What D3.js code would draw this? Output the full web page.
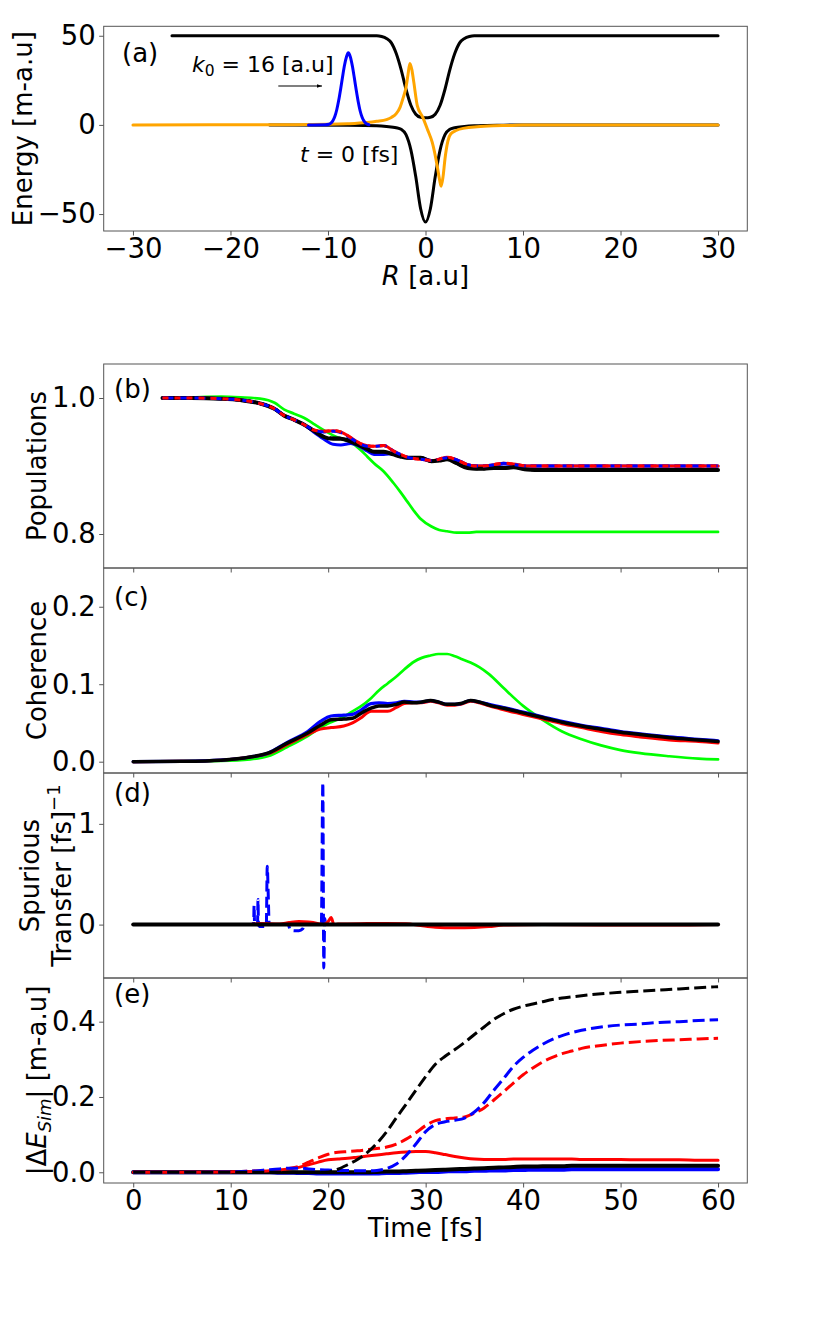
<!DOCTYPE html>
<html>
<head>
<meta charset="utf-8">
<script src="https://cdn.jsdelivr.net/npm/d3@7"></script>
<style>
  html, body { margin: 0; padding: 0; background: #fff; }
  svg { display: block; }
  text { font-family: "DejaVu Sans", sans-serif; fill: #000; }
</style>
</head>
<body>
<script>
// ---------------- DATA ----------------
// Panel (a): potential energy curves vs R [a.u]
const aUpperR = [-26, -8, -5, -4.5, -4, -3.5, -3, -2.5, -2, -1.5, -1, -0.5, 0, 0.5, 1, 1.5, 2, 2.5, 3, 3.5, 4, 4.5, 5, 8, 30];
const aUpperE = [50, 50, 50, 49.6, 48.5, 46, 40, 31, 20, 11, 6, 4.3, 4, 4.3, 6, 11, 20, 31, 40, 46, 48.5, 49.6, 50, 50, 50];

const aLowerR = [-16, -8, -5, -4, -3, -2.5, -2, -1.5, -1, -0.5, 0, 0.5, 1, 1.5, 2, 2.5, 3, 4, 5, 6, 8, 10, 30];
const aLowerE = [0, -0.2, -0.5, -0.9, -1.6, -2.5, -5.5, -14, -29, -47, -54.5, -47, -29, -14, -5.5, -2.5, -1.6, -0.9, -0.5, -0.3, -0.15, 0, 0];

const aCoupR = [-30, -15, -10, -8, -6, -5, -4, -3.5, -3, -2.6, -2.3, -2.0, -1.8, -1.6, -1.4, -1.2, -0.85, -0.3, 0.2, 0.7, 1.2, 1.45, 1.6, 1.8, 2.0, 2.3, 2.6, 3.2, 4, 5.3, 7, 8.7, 10, 30];
const aCoupE = [0, 0.1, 0.3, 0.6, 1.3, 2.0, 3.0, 4.2, 6.3, 10, 15, 21, 28, 34.5, 31, 24, 11, 4.5, -2.5, -10, -23, -31, -34.4, -29, -19, -9, -5, -3, -1.8, -1.0, -0.5, -0.3, 0, 0];

const aPackR = [-12, -10.3, -9.9, -9.7, -9.5, -9.3, -9.1, -8.9, -8.7, -8.5, -8.3, -8.1, -7.92, -7.7, -7.5, -7.3, -7.1, -6.9, -6.7, -6.5, -6.3, -6.1, -5.8];
const aPackE = [0, 0.1, 0.4, 1.0, 2.3, 4.7, 8.5, 13.8, 20.2, 27.2, 33.6, 38.2, 40.4, 38.0, 33.0, 26.4, 19.4, 13.0, 7.8, 4.3, 2.1, 0.9, 0.1];

// Panel (b): populations vs time [fs]
const tB = [3, 6, 9, 11, 13, 14.5, 15.5, 16.5, 17.5, 18.5, 19.5, 20.5, 21.3, 22.3, 23.3, 24.0, 24.7, 25.7, 26.7, 27.4, 28.1, 28.8, 29.5, 30.6, 31.4, 32.2, 33.2, 34.3, 35.2, 36.0, 37.0, 38.0, 39.0, 40.4, 42, 45, 50, 55, 60];
const popGreen = [1.000, 1.001, 1.002, 1.001, 0.999, 0.993, 0.983, 0.977, 0.971, 0.962, 0.953, 0.945, 0.940, 0.935, 0.924, 0.914, 0.904, 0.892, 0.875, 0.862, 0.848, 0.834, 0.822, 0.811, 0.806, 0.804, 0.802, 0.802, 0.803, 0.803, 0.803, 0.803, 0.803, 0.803, 0.803, 0.803, 0.803, 0.803, 0.803];
const popBlack = [1.000, 1.000, 0.999, 0.997, 0.992, 0.984, 0.974, 0.968, 0.961, 0.952, 0.943, 0.940, 0.940, 0.936, 0.930, 0.925, 0.921, 0.921, 0.917, 0.914, 0.912, 0.912, 0.912, 0.907, 0.908, 0.910, 0.904, 0.897, 0.896, 0.896, 0.897, 0.897, 0.898, 0.895, 0.894, 0.894, 0.894, 0.894, 0.894];
const popBlackDash = [1.000, 1.000, 0.999, 0.997, 0.992, 0.984, 0.974, 0.968, 0.961, 0.952, 0.944, 0.941, 0.941, 0.937, 0.930, 0.925, 0.921, 0.921, 0.917, 0.914, 0.912, 0.912, 0.912, 0.907, 0.908, 0.910, 0.904, 0.897, 0.896, 0.896, 0.897, 0.897, 0.898, 0.895, 0.894, 0.894, 0.894, 0.894, 0.894];
const popBlue = [1.000, 1.000, 0.999, 0.997, 0.992, 0.984, 0.974, 0.968, 0.961, 0.950, 0.940, 0.932, 0.931, 0.933, 0.928, 0.922, 0.917, 0.917, 0.918, 0.915, 0.912, 0.912, 0.912, 0.908, 0.909, 0.912, 0.909, 0.902, 0.900, 0.900, 0.901, 0.903, 0.902, 0.900, 0.900, 0.900, 0.900, 0.900, 0.900];
const popRed = [1.000, 1.000, 0.999, 0.997, 0.992, 0.984, 0.974, 0.968, 0.961, 0.953, 0.951, 0.952, 0.950, 0.942, 0.933, 0.930, 0.929, 0.930, 0.922, 0.917, 0.913, 0.911, 0.910, 0.908, 0.910, 0.913, 0.909, 0.902, 0.900, 0.900, 0.902, 0.904, 0.903, 0.900, 0.900, 0.900, 0.900, 0.900, 0.900];
const popBlueDash = [1.000, 1.000, 0.999, 0.997, 0.992, 0.984, 0.974, 0.968, 0.961, 0.953, 0.950, 0.951, 0.949, 0.941, 0.932, 0.929, 0.929, 0.930, 0.922, 0.917, 0.913, 0.911, 0.910, 0.908, 0.910, 0.912, 0.909, 0.902, 0.900, 0.900, 0.902, 0.904, 0.902, 0.900, 0.900, 0.900, 0.900, 0.900, 0.900];

// Panel (c): coherence vs time [fs]
const tC = [0, 5, 9, 12, 13.8, 15.8, 17.9, 19.2, 20.3, 21.6, 22.5, 23.3, 24.4, 25.2, 26.1, 27, 27.8, 28.8, 29.6, 30.5, 31.3, 32.2, 33, 33.6, 34.6, 35.5, 36.5, 38, 40, 42, 44, 46, 48, 50, 52, 55, 58, 60];
const cohGreen = [0, 0.0005, 0.001, 0.003, 0.007, 0.019, 0.033, 0.044, 0.051, 0.058, 0.065, 0.071, 0.082, 0.092, 0.101, 0.110, 0.119, 0.129, 0.134, 0.137, 0.139, 0.139, 0.136, 0.133, 0.128, 0.122, 0.113, 0.095, 0.072, 0.054, 0.039, 0.029, 0.021, 0.015, 0.011, 0.007, 0.004, 0.003];
const cohBlack = [0, 0.0005, 0.002, 0.006, 0.011, 0.024, 0.037, 0.047, 0.054, 0.055, 0.056, 0.062, 0.069, 0.072, 0.072, 0.074, 0.077, 0.076, 0.077, 0.079, 0.077, 0.074, 0.074, 0.075, 0.079, 0.077, 0.073, 0.069, 0.063, 0.057, 0.051, 0.046, 0.042, 0.038, 0.035, 0.031, 0.028, 0.026];
const cohBlue = [0, 0.0005, 0.002, 0.006, 0.011, 0.025, 0.039, 0.052, 0.059, 0.060, 0.061, 0.066, 0.075, 0.076, 0.075, 0.076, 0.078, 0.077, 0.077, 0.079, 0.077, 0.074, 0.074, 0.075, 0.079, 0.077, 0.074, 0.070, 0.064, 0.058, 0.052, 0.047, 0.043, 0.039, 0.036, 0.032, 0.029, 0.027];
const cohRed = [0, 0.0005, 0.002, 0.006, 0.010, 0.022, 0.035, 0.042, 0.044, 0.046, 0.050, 0.056, 0.065, 0.065, 0.065, 0.070, 0.075, 0.076, 0.076, 0.078, 0.076, 0.073, 0.073, 0.074, 0.078, 0.076, 0.072, 0.067, 0.061, 0.055, 0.049, 0.044, 0.039, 0.035, 0.032, 0.028, 0.026, 0.024];

// Panel (d): spurious transfer vs time [fs]
const tDBlueDash = [0, 12.35, 12.4, 12.45, 12.75, 12.8, 12.85, 12.95, 13.65, 13.75, 13.85, 13.95, 14.1, 15.9, 16.1, 16.5, 17.0, 17.4, 17.6, 19.3, 19.45, 19.55, 19.65, 19.75, 19.85, 60];
const spBlueDash = [0, 0, 0.19, 0.0, 0.0, 0.25, 0.0, -0.02, -0.02, 0.58, 0.3, 0.0, 0.0, 0.0, -0.05, -0.06, -0.06, -0.04, 0.0, 0.0, 1.41, -0.43, 0.06, 0.0, 0.0, 0.0];
const tDRed = [0, 12, 13, 15, 16, 17, 18, 19, 19.5, 20.0, 20.3, 20.6, 21, 24, 26, 28, 29.5, 31, 33, 35, 36.5, 38, 42, 48, 55, 60];
const spRed = [0, 0, 0.01, 0.005, 0.02, 0.03, 0.025, 0.01, 0.0, 0.03, 0.07, 0.0, 0.005, 0.01, 0.012, 0.008, -0.01, -0.025, -0.03, -0.028, -0.02, -0.005, 0.0, -0.005, -0.005, 0];
const tDBlack = [0, 60];
const spBlack = [0, 0];

// Panel (e): |dE_Sim| vs time [fs]
const tE = [0, 5, 10, 12, 14, 15, 16, 17, 18, 19, 20, 21, 22, 23, 24, 25, 26, 27, 28, 29, 30, 31, 32, 33, 34, 35, 36, 37, 38, 39, 40, 41, 42, 43, 44, 45, 46, 48, 50, 52, 54, 56, 58, 60];
const dEBlackDash = [0, 0, 0, 0, 0, 0, 0, 0, 0, 0, 0.001, 0.008, 0.020, 0.034, 0.052, 0.077, 0.108, 0.145, 0.181, 0.218, 0.254, 0.287, 0.308, 0.326, 0.345, 0.366, 0.386, 0.406, 0.421, 0.433, 0.441, 0.447, 0.453, 0.459, 0.463, 0.466, 0.469, 0.474, 0.478, 0.481, 0.484, 0.487, 0.490, 0.493];
const dEBlueDash = [0, 0, 0.001, 0.003, 0.007, 0.009, 0.011, 0.011, 0.009, 0.007, 0.006, 0.005, 0.005, 0.004, 0.004, 0.005, 0.010, 0.022, 0.045, 0.075, 0.108, 0.127, 0.134, 0.138, 0.144, 0.160, 0.185, 0.218, 0.249, 0.281, 0.305, 0.324, 0.340, 0.353, 0.363, 0.371, 0.377, 0.386, 0.391, 0.394, 0.398, 0.400, 0.403, 0.405];
const dERedDash = [0, 0, 0.001, 0.003, 0.004, 0.006, 0.010, 0.016, 0.027, 0.038, 0.048, 0.053, 0.055, 0.057, 0.060, 0.063, 0.067, 0.075, 0.088, 0.105, 0.124, 0.137, 0.142, 0.144, 0.147, 0.157, 0.171, 0.192, 0.214, 0.237, 0.259, 0.277, 0.293, 0.305, 0.315, 0.322, 0.329, 0.337, 0.343, 0.347, 0.350, 0.352, 0.354, 0.356];
const dERed = [0, 0, 0.001, 0.002, 0.004, 0.006, 0.009, 0.013, 0.020, 0.027, 0.033, 0.035, 0.037, 0.040, 0.043, 0.046, 0.049, 0.052, 0.054, 0.055, 0.055, 0.052, 0.047, 0.042, 0.038, 0.035, 0.034, 0.034, 0.034, 0.035, 0.035, 0.035, 0.035, 0.035, 0.035, 0.035, 0.034, 0.034, 0.034, 0.033, 0.033, 0.033, 0.032, 0.032];
const dEBlack = [0, 0, 0, 0, 0, 0, 0, 0, 0, 0, 0, 0, 0, 0, 0, 0.001, 0.002, 0.002, 0.003, 0.004, 0.005, 0.006, 0.007, 0.008, 0.009, 0.010, 0.011, 0.012, 0.013, 0.014, 0.015, 0.015, 0.016, 0.016, 0.016, 0.017, 0.017, 0.017, 0.017, 0.017, 0.017, 0.017, 0.017, 0.017];
const dEBlue = [0, 0, 0, 0, 0, -0.001, -0.001, -0.002, -0.002, -0.003, -0.003, -0.003, -0.003, -0.003, -0.003, -0.003, -0.002, -0.002, -0.001, 0, 0.001, 0.001, 0.002, 0.003, 0.003, 0.004, 0.004, 0.005, 0.005, 0.006, 0.006, 0.007, 0.007, 0.007, 0.007, 0.008, 0.008, 0.008, 0.008, 0.008, 0.008, 0.008, 0.008, 0.008];

// Tick labels
const aXTicks = [-30, -20, -10, 0, 10, 20, 30];
const aYTicks = [-50, 0, 50];
const timeTicks = [0, 10, 20, 30, 40, 50, 60];
const bYTicks = [0.8, 1.0];
const cYTicks = [0.0, 0.1, 0.2];
const dYTicks = [0, 1];
const eYTicks = [0.0, 0.2, 0.4];

// ---------------- DRAWING ----------------
const W = 830, H = 1329;
const L = 103.7, Rt = 747.3;
const TICK_FS = 27.5, LABEL_FS = 26;
const FRAME = "#555";

const svg = d3.select("body").append("svg").attr("width", W).attr("height", H);

svg.append("defs").append("marker")
  .attr("id", "arrow").attr("viewBox", "0 0 10 10").attr("refX", 10).attr("refY", 5)
  .attr("markerWidth", 5).attr("markerHeight", 5).attr("orient", "auto")
  .append("path").attr("d", "M0,1.5 L10,5 L0,8.5 Z").attr("fill", "#000");

const xR = d3.scaleLinear().domain([-33, 33]).range([L, Rt]);
const xT = d3.scaleLinear().domain([-3.03, 63]).range([L, Rt]);

const panels = {
  a: { top: 26.3, bot: 231, y: d3.scaleLinear().domain([-59.5, 55.3]).range([231, 26.3]) },
  b: { top: 364, bot: 568, y: d3.scaleLinear().domain([0.75, 1.05]).range([568, 364]) },
  c: { top: 568, bot: 773, y: d3.scaleLinear().domain([-0.0146, 0.25]).range([773, 568]) },
  d: { top: 773, bot: 978, y: d3.scaleLinear().domain([-0.53, 1.505]).range([978, 773]) },
  e: { top: 978, bot: 1183, y: d3.scaleLinear().domain([-0.0285, 0.516]).range([1183, 978]) }
};

function clipFor(id, p) {
  svg.select("defs").append("clipPath").attr("id", "clip-" + id)
    .append("rect").attr("x", L).attr("y", p.top).attr("width", Rt - L).attr("height", p.bot - p.top);
}
Object.entries(panels).forEach(([k, p]) => clipFor(k, p));

function drawLine(panelKey, xs, ys, xScale, color, width, dash) {
  const p = panels[panelKey];
  const data = xs.map((x, i) => [x, ys[i]]);
  const line = d3.line().x(d => xScale(d[0])).y(d => p.y(d[1])).curve(d3.curveMonotoneX);
  svg.append("path").datum(data)
    .attr("clip-path", "url(#clip-" + panelKey + ")")
    .attr("d", line)
    .attr("fill", "none").attr("stroke", color).attr("stroke-width", width)
    .attr("stroke-linejoin", "round").attr("stroke-linecap", dash ? "butt" : "round")
    .attr("stroke-dasharray", dash || null);
}

function styleAxis(g) {
  g.select(".domain").remove();
  g.selectAll(".tick line").attr("stroke", FRAME).attr("stroke-width", 1);
  g.selectAll(".tick text").attr("font-size", TICK_FS).attr("font-family", "DejaVu Sans").attr("fill", "#000");
}

function yAxis(key, ticks, fmt) {
  const p = panels[key];
  const g = svg.append("g").attr("transform", `translate(${L},0)`)
    .call(d3.axisLeft(p.y).tickValues(ticks).tickFormat(fmt).tickSize(4.5).tickPadding(3.5));
  styleAxis(g);
}
function xAxis(key, scale, ticks, showLabels) {
  const p = panels[key];
  const g = svg.append("g").attr("transform", `translate(0,${p.bot})`)
    .call(d3.axisBottom(scale).tickValues(ticks).tickSize(4.5).tickPadding(3)
      .tickFormat(showLabels ? d3.format("d") : () => ""));
  styleAxis(g);
}

// --- Panel (a)
drawLine("a", aUpperR, aUpperE, xR, "#000", 3);
drawLine("a", aLowerR, aLowerE, xR, "#000", 3);
drawLine("a", aCoupR, aCoupE, xR, "#FFA500", 3);
drawLine("a", aPackR, aPackE, xR, "#0000FF", 3);

// --- Panel (b)
drawLine("b", tB, popGreen, xT, "#00FF00", 2.7);
drawLine("b", tB, popBlue, xT, "#0000FF", 3);
drawLine("b", tB, popRed, xT, "#FF0000", 3);
drawLine("b", tB, popBlack, xT, "#000", 4);
drawLine("b", tB, popBlackDash, xT, "#000", 3, "11,5");
drawLine("b", tB, popBlueDash, xT, "#0000FF", 3, "11,5");
drawLine("b", tB, popRed, xT, "#FF0000", 3, "6,6");

// --- Panel (c)
drawLine("c", tC, cohGreen, xT, "#00FF00", 2.7);
drawLine("c", tC, cohRed, xT, "#FF0000", 3);
drawLine("c", tC, cohBlue, xT, "#0000FF", 3.2);
drawLine("c", tC, cohBlack, xT, "#000", 3.5);

// --- Panel (d)
drawLine("d", tDBlueDash, spBlueDash, xT, "#0000FF", 3, "11,5");
drawLine("d", tDRed, spRed, xT, "#FF0000", 3);
drawLine("d", tDBlack, spBlack, xT, "#000", 4);

// --- Panel (e)
drawLine("e", tE, dEBlue, xT, "#0000FF", 4);
drawLine("e", tE, dEBlack, xT, "#000", 4);
drawLine("e", tE, dERed, xT, "#FF0000", 3);
drawLine("e", tE, dERedDash, xT, "#FF0000", 3, "12,5");
drawLine("e", tE, dEBlueDash, xT, "#0000FF", 3, "12,5");
drawLine("e", tE, dEBlackDash, xT, "#000", 3, "12,5");

// Frames
Object.values(panels).forEach(p => {
  svg.append("rect").attr("x", L).attr("y", p.top).attr("width", Rt - L).attr("height", p.bot - p.top)
    .attr("fill", "none").attr("stroke", FRAME).attr("stroke-width", 1);
});

// Axes
yAxis("a", aYTicks, d3.format("d"));
xAxis("a", xR, aXTicks, true);
yAxis("b", bYTicks, d3.format(".1f"));
yAxis("c", cYTicks, d3.format(".1f"));
yAxis("d", dYTicks, d3.format("d"));
yAxis("e", eYTicks, d3.format(".1f"));
xAxis("b", xT, timeTicks, false);
xAxis("c", xT, timeTicks, false);
xAxis("d", xT, timeTicks, false);
xAxis("e", xT, timeTicks, true);

// Panel letters
const letters = [["(a)", 122, 61.5], ["(b)", 114, 398], ["(c)", 114, 606], ["(d)", 114, 802], ["(e)", 114, 1003]];
letters.forEach(([t, x, y]) => svg.append("text").attr("x", x).attr("y", y).attr("font-size", LABEL_FS).text(t));

// Annotations in (a)
const k0 = svg.append("text").attr("x", 192).attr("y", 71.7).attr("font-size", 22);
k0.append("tspan").attr("font-style", "italic").text("k");
k0.append("tspan").attr("font-size", 15.5).attr("dy", 4).text("0");
k0.append("tspan").attr("dy", -4).text(" = 16 [a.u]");
const t0 = svg.append("text").attr("x", 300).attr("y", 161.7).attr("font-size", 22);
t0.append("tspan").attr("font-style", "italic").text("t");
t0.append("tspan").text(" = 0 [fs]");
svg.append("line").attr("x1", 278.3).attr("y1", 86).attr("x2", 322).attr("y2", 86)
  .attr("stroke", "#000").attr("stroke-width", 1.1).attr("marker-end", "url(#arrow)");

// Axis labels
const rl = svg.append("text").attr("x", (L + Rt) / 2).attr("y", 285).attr("text-anchor", "middle").attr("font-size", LABEL_FS);
rl.append("tspan").attr("font-style", "italic").text("R");
rl.append("tspan").text(" [a.u]");
svg.append("text").attr("x", (L + Rt) / 2).attr("y", 1237).attr("text-anchor", "middle").attr("font-size", LABEL_FS).text("Time [fs]");

function yLabel(x, y, txt) {
  return svg.append("text").attr("transform", `translate(${x},${y}) rotate(-90)`)
    .attr("text-anchor", "middle").attr("font-size", LABEL_FS).text(txt);
}
yLabel(32, 128.7, "Energy [m-a.u]");
yLabel(46, 466, "Populations");
yLabel(46, 670.5, "Coherence");
yLabel(39, 875.5, "Spurious");
const tr = svg.append("text").attr("transform", `translate(71,875.5) rotate(-90)`)
  .attr("text-anchor", "middle").attr("font-size", LABEL_FS);
tr.append("tspan").text("Transfer [fs]");
tr.append("tspan").attr("dy", -11).attr("font-size", 18).text("\u22121");

const de = svg.append("text").attr("transform", `translate(46,1080.5) rotate(-90)`)
  .attr("text-anchor", "middle").attr("font-size", LABEL_FS);
de.append("tspan").text("|\u0394");
de.append("tspan").attr("font-style", "italic").text("E");
de.append("tspan").attr("font-style", "italic").attr("font-size", 18).attr("dy", 5).text("Sim");
de.append("tspan").attr("dy", -5).text("| [m-a.u]");
</script>
</body>
</html>
